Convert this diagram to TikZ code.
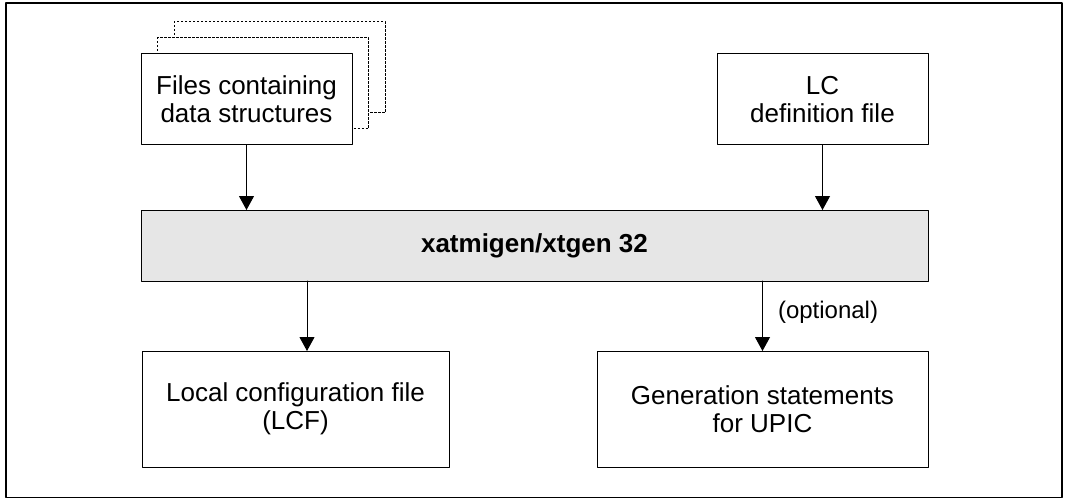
\documentclass[tikz,border=0pt]{standalone}
\usepackage{fontspec}
\setmainfont{Liberation Sans}
\usetikzlibrary{arrows.meta}

\begin{document}
\begin{tikzpicture}[x=1pt,y=1pt,line cap=round,line join=round,>={Triangle[width=15pt,length=14pt]},
    filebox/.style={draw,line width=1pt,fill=white,align=center,inner sep=0pt,outer sep=0pt,
      font=\fontsize{26}{28}\selectfont},
    copybox/.style={filebox,line cap=butt,dash pattern=on 2.5pt off 1.5pt,minimum width=211pt,minimum height=91pt},
    flow/.style={->,line width=1pt}]
      \useasboundingbox (0,0) rectangle (1065,499);
      \draw [line width=1.5pt] (6,1.5) rectangle (1062,496);
      % stacked input files
      \node [copybox] (files3) at (279.5,431.5) {};
      \node [copybox] (files2) at (263,415.5) {};
      \node [filebox,minimum width=211pt,minimum height=91pt] (files) at (246.5,399.5) {Files containing\\data structures};
      \node [filebox,minimum width=211pt,minimum height=91pt] (lcdef) at (822.5,399.5) {LC\\definition file};
      % generator
      \node [filebox,fill={rgb,255:red,230;green,230;blue,230},minimum width=787pt,minimum height=71pt,
        font=\fontsize{26}{28}\selectfont\bfseries] (gen) at (534.5,253.5) {xatmigen/xtgen 32};
      % outputs
      \node [filebox,minimum width=307pt,minimum height=116pt] (lcf) at (295.5,90) {Local configuration file\\(LCF)};
      \node [filebox,minimum width=331pt,minimum height=116pt] (upic) at (762.5,90) {Generation statements\\for UPIC};
      \draw [flow] (files.south) -- (files.south |- gen.north);
      \draw [flow] (lcdef.south) -- (lcdef.south |- gen.north);
      \draw [flow] ([xshift=11.5pt]lcf.north |- gen.south) -- ([xshift=11.5pt]lcf.north);
      \draw [flow] (upic.north |- gen.south) -- node[pos=0.45,right=15pt,inner sep=0pt,
        font=\fontsize{24}{26}\selectfont] (opt) {(optional)} (upic.north);
\end{tikzpicture}
\end{document}
